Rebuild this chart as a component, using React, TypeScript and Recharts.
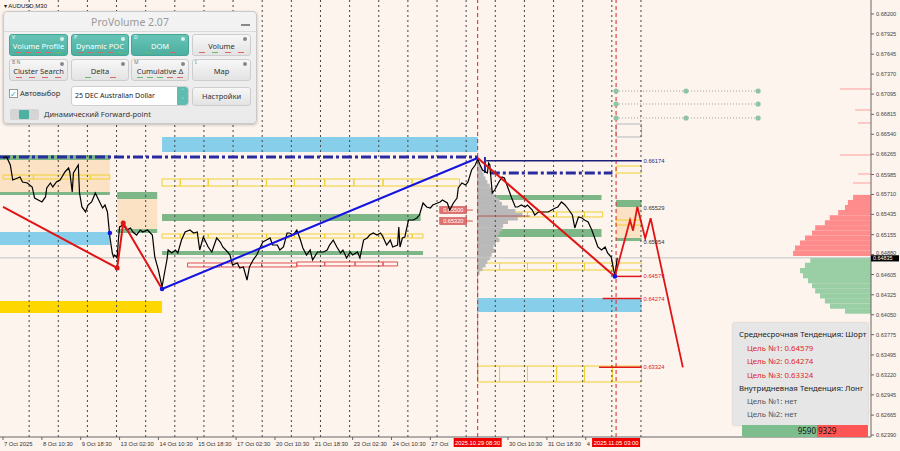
import React from "react";
import {
  ComposedChart,
  Line,
  XAxis,
  YAxis,
  ReferenceLine,
  ReferenceArea,
  Scatter,
} from "recharts";

// AUDUSD M30, trading hours counted from the first bar on 7 Oct
const barTimes = [
  0, 3, 6, 8, 12, 14, 16, 20, 24, 26,
  29, 32, 35, 36, 39, 41, 44, 47, 51, 54,
  55, 57, 58, 62, 63, 65, 68, 70, 73, 76,
  78, 82, 84, 86, 88, 90, 91, 92, 94, 95,
  96, 99, 102, 105, 107, 110, 113, 115, 119, 123,
  125, 128, 131, 133, 135, 136, 139, 142, 144, 147,
  150, 154, 157, 160, 162, 165, 169, 172, 176, 179,
  181, 185, 187, 189, 193, 195, 198, 201, 203, 206,
  209, 212, 214, 217, 220, 222, 226, 228, 231, 234,
  236, 239, 242, 245, 247, 250, 253, 255, 259, 261,
  264, 267, 269, 272, 275, 278, 280, 283, 286, 288,
  292, 294, 297, 300, 302, 305, 308, 311, 313, 316,
  319, 321, 325, 326, 327, 329, 331, 334, 338, 341,
  343, 346, 349, 352, 354, 358, 360, 362, 366, 368,
  371, 374, 375, 378, 381, 383, 386, 389, 391, 393,
  395, 399, 400, 401, 403, 405, 408, 411, 413, 416,
  419, 422, 424, 427, 430, 432, 436, 438, 441, 444,
  446, 449, 452, 455, 457, 460, 463, 465, 469, 471,
  474, 477, 479, 482, 485, 488, 490, 493, 496, 498,
  501, 504, 506,
];
const closePrices = [
  0.66213, 0.66227, 0.66116, 0.65909, 0.65937, 0.65951, 0.65882, 0.65868, 0.65813, 0.65661,
  0.65633, 0.65606, 0.65675, 0.65799, 0.65868, 0.65813, 0.65882, 0.65909, 0.6602, 0.66075,
  0.6602, 0.65744, 0.66006, 0.66116, 0.6573, 0.65537, 0.65468, 0.65564, 0.65606, 0.6573,
  0.65661, 0.65523, 0.65564, 0.65468, 0.65123, 0.64902, 0.64847, 0.64874, 0.64833, 0.65081,
  0.65261, 0.65288, 0.65219, 0.65247, 0.65192, 0.6515, 0.65219, 0.65192, 0.65219, 0.6515,
  0.64847, 0.64667, 0.64433, 0.64626, 0.64805, 0.64943, 0.64902, 0.64943, 0.64902, 0.65081,
  0.65192, 0.65219, 0.65178, 0.65192, 0.64943, 0.65123, 0.64985, 0.64916, 0.65109, 0.65054,
  0.64985, 0.64916, 0.64874, 0.64736, 0.64764, 0.64695, 0.64709, 0.64529, 0.64709, 0.64805,
  0.64874, 0.64985, 0.65054, 0.65081, 0.65109, 0.65012, 0.65012, 0.64943, 0.64985, 0.65178,
  0.65178, 0.6515, 0.65219, 0.65081, 0.64971, 0.64874, 0.64943, 0.64805, 0.64916, 0.64916,
  0.64916, 0.64943, 0.65012, 0.65081, 0.64985, 0.64902, 0.64943, 0.64833, 0.64916, 0.64874,
  0.64916, 0.64833, 0.65081, 0.65109, 0.6515, 0.65178, 0.6515, 0.65178, 0.65123, 0.65012,
  0.65081, 0.64985, 0.65012, 0.65261, 0.64985, 0.65109, 0.65123, 0.65357, 0.65357, 0.65385,
  0.65426, 0.65592, 0.65537, 0.65523, 0.65564, 0.65592, 0.65606, 0.65633, 0.65592, 0.65495,
  0.65592, 0.65661, 0.65799, 0.65868, 0.6584, 0.65882, 0.66047, 0.66116, 0.66199, 0.66116,
  0.66047, 0.66006, 0.66144, 0.66116, 0.6573, 0.65771, 0.65868, 0.65951, 0.65937, 0.65799,
  0.65661, 0.65537, 0.65537, 0.65564, 0.65537, 0.65564, 0.65495, 0.65426, 0.65468, 0.65468,
  0.65468, 0.65468, 0.65495, 0.65523, 0.65537, 0.65606, 0.65564, 0.65523, 0.65426, 0.65247,
  0.65399, 0.65385, 0.65357, 0.6533, 0.65219, 0.65081, 0.64985, 0.64943, 0.64985, 0.64902,
  0.64847, 0.64584, 0.64835,
];
const lastPrice = 0.64835;

const timeTicks = [0, 32, 64, 96, 128, 160, 192, 224, 256, 288, 320, 352, 416, 448, 480];
const timeLabels = [
  "7 Oct 2025", "8 Oct 10:30", "9 Oct 18:30", "13 Oct 02:30", "14 Oct 10:30", "15 Oct 18:30",
  "17 Oct 02:30", "20 Oct 10:30", "21 Oct 18:30", "23 Oct 02:30", "24 Oct 10:30", "27 Oct",
  "30 Oct 10:30", "31 Oct 18:30", "4",
];
const markerTimes = [391, 505];
const markerLabels = ["2025.10.29 08:30", "2025.11.05 03:00"];
const priceTicks = [
  0.682, 0.67925, 0.67645, 0.6737, 0.67095, 0.66815, 0.6654, 0.66265, 0.65985, 0.6571, 0.65435,
  0.65155, 0.6488, 0.64605, 0.64325, 0.6405, 0.63775, 0.63495, 0.6322, 0.62945, 0.62665, 0.6239,
];
const daySeparators = [
  21.5, 45.5, 69.5, 93.5, 117.5, 141.5, 165.5, 189.5, 213.5, 237.5, 261.5,
  285.5, 309.5, 333.5, 357.5, 381.5, 405.5, 429.5, 453.5, 477.5, 501.5, 525.5,
];

// zones: [from, to, low, high]
const blueZones = [
  [131, 391, 0.66296, 0.66503],
  [-2.5, 88, 0.65012, 0.65192],
  [391, 526, 0.64088, 0.64281],
];
const goldZones = [[-2.5, 131, 0.64074, 0.64239]];
const greenZones = [
  [-2.5, 88, 0.66185, 0.66254],
  [-2.5, 88, 0.65702, 0.65744],
  [94, 127, 0.65647, 0.65744],
  [94, 127, 0.65178, 0.65233],
  [131, 344, 0.65343, 0.6544],
  [131, 346, 0.64874, 0.64929],
  [391, 493, 0.65633, 0.65702],
  [391, 493, 0.65123, 0.65233],
  [505, 526, 0.65537, 0.65633],
  [505, 526, 0.65067, 0.65109],
];
const peachZones = [
  [-2.5, 88, 0.65744, 0.66185],
  [94, 127, 0.65233, 0.65647],
  [505, 526, 0.65109, 0.65537],
];
const yellowCuts = [
  [0, 25, 72, 88],
  [131, 146, 169, 193, 217, 240, 265, 289, 313, 337, 376],
  [131, 146, 169, 193, 217, 240, 265, 289, 313, 337, 346],
  [391, 409, 432, 456, 479, 494],
  [391, 409, 432, 456, 479, 502, 526],
  [391, 409, 432, 456, 479, 502, 526],
  [505, 526],
  [505, 526],
];
const yellowLows = [0.65923, 0.65826, 0.65109, 0.65399, 0.64667, 0.63122, 0.66006, 0.65288];
const yellowHighs = [0.65978, 0.65923, 0.65164, 0.65468, 0.64764, 0.63342, 0.66102, 0.65357];
const redCuts = [
  [152, 180, 213, 242],
  [242, 265, 290, 313, 325],
];
const redLows = [0.64709, 0.64723];
const redHighs = [0.64764, 0.64778];

// session volume profile from the 29 Oct pivot
const profileStart = 391;
const profilePrices = [
  0.6613, 0.6608, 0.6603, 0.6598, 0.6593, 0.6588, 0.6583, 0.6578, 0.6573, 0.6568, 0.6563,
  0.6558, 0.6553, 0.6548, 0.6543, 0.6538, 0.6533, 0.6528, 0.6523, 0.6518, 0.6513, 0.6508,
  0.6503, 0.6498, 0.6493, 0.6488, 0.6483, 0.6478, 0.6473, 0.6468, 0.6463,
];
const profileVolumes = [
  1.6, 2.5, 4, 5, 6.5, 8, 10, 11.5, 13, 15.5, 18,
  20, 25, 31, 37, 33, 25, 21, 20, 18, 16.5, 18,
  15, 13, 15, 11.5, 10, 8, 6.5, 4, 1.6,
];
// market profile on the right edge
const rightEdge = 715;
const rightPrices = [
  0.65668, 0.65598, 0.65528, 0.65458, 0.65388, 0.65318, 0.65248, 0.65178, 0.65108, 0.65038,
  0.64968, 0.64898, 0.648, 0.6473, 0.6466, 0.6459, 0.6452, 0.6445, 0.6438, 0.6431, 0.6424,
  0.6417, 0.641,
];
const rightVolumes = [
  14.8, 19, 21.4, 27, 34, 38, 46, 48.6, 54.4, 58.5, 62.6, 64.2,
  50, 54.4, 58.5, 56, 51.9, 48.6, 46, 42, 38, 33.8, 21.4,
];
const thinPrices = [0.67165, 0.66875, 0.66696, 0.66254, 0.65992, 0.65868];
const thinVolumes = [25.5, 13, 10.7, 25.5, 10.7, 14.8];

// trend structure
const redLegTimes = [0, 94, 99, 131];
const redLegPrices = [0.65537, 0.64695, 0.65316, 0.64405];
const blueLegTimes = [131, 391];
const blueLegPrices = [0.64405, 0.66213];
const downLegTimes = [391, 504];
const downLegPrices = [0.66213, 0.64579];
const forecastTimes = [504, 516.5, 519, 522.5, 529, 533.5, 560];
const forecastPrices = [0.64579, 0.65357, 0.6521, 0.65541, 0.65103, 0.65381, 0.63324];
const shortTargets = [0.64579, 0.64274, 0.63324];
const targetStarts = [504, 494, 491];
const zoneLabels = [0.66174, 0.65529, 0.65054];
const futureTimes = [505, 562.6, 622];
const futurePrices = [0.67137, 0.66958, 0.66765];
const buyVolume = 9590;
const sellVolume = 9329;

const priceData = barTimes.map((t, i) => ({ t, p: closePrices[i] }));
const toPts = (ts: number[], ps: number[]) => ts.map((t, i) => ({ t, p: ps[i] }));

const AXIS_FONT = "'Liberation Sans', Arial, sans-serif";
const UI_FONT = "'Noto Sans', 'Open Sans', sans-serif";

const PriceTick = (props: any) => {
  const { x, y, payload } = props;
  const v = payload.value as number;
  if (v === lastPrice) {
    return (
      <g>
        <rect x={x} y={y - 2.6} width={28} height={6.2} fill="#000" />
        <text x={x + 2} y={y + 2.4} fontSize={5.4} fill="#fff" fontFamily={AXIS_FONT}>
          {v.toFixed(5)}
        </text>
      </g>
    );
  }
  // the tick right above the price box sits a little higher so both stay readable
  const nudge = v > lastPrice && v - lastPrice < 0.0006 ? -1.8 : 0;
  return (
    <g>
      <line x1={x} x2={x + 3} y1={y} y2={y} stroke="#666" />
      <text x={x + 5} y={y + 2 + nudge} fontSize={5.6} fill="#444" fontFamily={AXIS_FONT}>
        {v.toFixed(5)}
      </text>
    </g>
  );
};

const TimeTick = (props: any) => {
  const { x, y, payload } = props;
  const v = payload.value as number;
  const m = markerTimes.indexOf(v);
  if (m >= 0) {
    return (
      <g>
        <rect x={x - 24} y={y + 1} width={48} height={9} fill="#F00000" />
        <text x={x} y={y + 8} textAnchor="middle" fontSize={5.8} fill="#fff" fontFamily={AXIS_FONT}>
          {markerLabels[m]}
        </text>
      </g>
    );
  }
  const i = timeTicks.indexOf(v);
  return (
    <g>
      <line x1={x} x2={x} y1={y} y2={y + 3} stroke="#666" />
      <text x={x + 1} y={y + 9} fontSize={5.8} fill="#333" fontFamily={AXIS_FONT}>
        {timeLabels[i]}
      </text>
    </g>
  );
};

const boxLabel = (text: string) => (props: any) => {
  const vb = props.viewBox || {};
  return (
    <g>
      <rect x={vb.x - 27} y={vb.y - 3.5} width={27} height={7} fill="#E07070" stroke="#C04040" strokeWidth={0.5} />
      <text x={vb.x - 13.5} y={vb.y + 2.2} textAnchor="middle" fontSize={5.6} fill="#fff" fontFamily={AXIS_FONT}>
        {text}
      </text>
    </g>
  );
};

const Btn = ({ x, y, w, label, on, hot, marks }: any) => (
  <div
    style={{
      position: "absolute",
      left: x,
      top: y,
      width: w,
      height: 22,
      boxSizing: "border-box",
      borderRadius: 3,
      border: "1px solid " + (on ? "#46A596" : "#CDCDCD"),
      background: on ? "linear-gradient(#66C4B6, #4CAF9F)" : "linear-gradient(#F7F7F7, #E3E3E3)",
      color: on ? "#fff" : "#333",
    }}
  >
    {hot && (
      <span style={{ position: "absolute", left: 2, top: 0, fontSize: 5, lineHeight: "5px", color: on ? "#e8fffa" : "#777" }}>
        {hot}
      </span>
    )}
    <span
      style={{
        position: "absolute",
        right: 3,
        top: 1.5,
        width: 4,
        height: 4,
        borderRadius: 2,
        background: on ? "#d8f0ec" : "#888",
      }}
    />
    <span
      style={{
        position: "absolute",
        left: 0,
        right: 0,
        top: 6,
        fontSize: 7.5,
        lineHeight: "10px",
        textAlign: "center",
        whiteSpace: "nowrap",
      }}
    >
      {label}
    </span>
    <div style={{ position: "absolute", left: 3, right: 3, bottom: 2, height: 1.5, display: "flex", justifyContent: "space-around" }}>
      {(marks || []).map((c: string, i: number) => (
        <span key={i} style={{ width: 6, height: 1.5, background: c }} />
      ))}
    </div>
  </div>
);

const ProVolumePanel = () => (
  <div
    style={{
      position: "absolute",
      left: 3,
      top: 11,
      width: 254,
      height: 113,
      boxSizing: "border-box",
      borderRadius: 4,
      border: "1px solid #C9C9C9",
      background: "linear-gradient(#F3F3F3, #EAEAEA)",
      boxShadow: "0 1px 3px rgba(0,0,0,0.25)",
      fontFamily: UI_FONT,
    }}
  >
    <div style={{ position: "absolute", left: 0, right: 0, top: 3, textAlign: "center", fontSize: 10.5, color: "#9A9A9A" }}>
      ProVolume 2.07
    </div>
    <div style={{ position: "absolute", right: 6, top: 12, width: 9, height: 1.5, background: "#888" }} />
    <div style={{ position: "absolute", left: 0, right: 0, top: 19, height: 1, background: "#DADADA" }} />
    <Btn x={5} y={22} w={59} label="Volume Profile" on hot="V" marks={["#d66", "#d66", "#d66", "#d66", "#6b6"]} />
    <Btn x={67} y={22} w={58} label="Dynamic POC" on hot="P" marks={["#d66", "#d66", "#d66", "#d66", "#6b6"]} />
    <Btn x={127} y={22} w={58} label="DOM" on hot="D" marks={["#6b6", "#d66"]} />
    <Btn x={188} y={22} w={59} label="Volume" marks={["#d66", "#6b6", "#d66", "#d66"]} />
    <Btn x={5} y={47} w={59} label="Cluster Search" hot="B N" marks={["#d66", "#d66", "#d66", "#d66"]} />
    <Btn x={67} y={47} w={58} label="Delta" marks={["#6b6", "#d66"]} />
    <Btn x={127} y={47} w={58} label="Cumulative Δ" hot="M" marks={["#6b6", "#6b6", "#6b6", "#d66", "#d66"]} />
    <Btn x={188} y={47} w={59} label="Map" hot="I" />
    <div style={{ position: "absolute", left: 5, top: 76, fontSize: 7.5, color: "#333", display: "flex", alignItems: "center" }}>
      <span style={{ display: "inline-block", width: 7, height: 7, border: "1px solid #999", background: "#fff", marginRight: 2, color: "#3aa", fontSize: 8, lineHeight: "7px" }}>✓</span>
      Автовыбор
    </div>
    <div
      style={{
        position: "absolute",
        left: 67,
        top: 74,
        width: 118,
        height: 20,
        boxSizing: "border-box",
        border: "1px solid #CFCFCF",
        borderRadius: 3,
        background: "#fff",
        fontSize: 7,
        lineHeight: "18px",
        paddingLeft: 3,
        color: "#222",
      }}
    >
      25 DEC Australian Dollar
      <div style={{ position: "absolute", right: 0, top: 0, width: 11, height: 18, background: "#5DBDB0", borderRadius: "0 3px 3px 0", color: "#fff", fontSize: 6, lineHeight: "9px", textAlign: "center" }}>
        ˄<br />˅
      </div>
    </div>
    <div
      style={{
        position: "absolute",
        left: 188,
        top: 75,
        width: 59,
        height: 19,
        boxSizing: "border-box",
        border: "1px solid #CDCDCD",
        borderRadius: 3,
        background: "linear-gradient(#F7F7F7, #E3E3E3)",
        fontSize: 7.5,
        lineHeight: "17px",
        textAlign: "center",
        color: "#333",
      }}
    >
      Настройки
    </div>
    <div style={{ position: "absolute", left: 6, top: 97, width: 29, height: 11, borderRadius: 2, background: "#D5D5D5" }}>
      <div style={{ position: "absolute", left: 9, top: 1, width: 10, height: 9, background: "#4CB1A3", borderRadius: 1 }} />
    </div>
    <div style={{ position: "absolute", left: 40, top: 97, fontSize: 7.5, lineHeight: "11px", color: "#333" }}>
      Динамический Forward-point
    </div>
  </div>
);

const InfoBox = () => (
  <div
    style={{
      position: "absolute",
      left: 733,
      top: 323,
      width: 135,
      height: 102,
      background: "#E6E6E6",
      boxShadow: "0 0 2px rgba(0,0,0,0.3)",
      fontFamily: UI_FONT,
      fontSize: 7.8,
      lineHeight: "11px",
      color: "#222",
    }}
  >
    <div style={{ position: "absolute", left: 6, top: 5.5, whiteSpace: "nowrap" }}>Среднесрочная Тенденция: Шорт</div>
    {shortTargets.map((v, i) => (
      <div key={i} style={{ position: "absolute", left: 14, top: 19.5 + 13.5 * i, color: "#E02828" }}>
        Цель №{i + 1}: {v.toFixed(5)}
      </div>
    ))}
    <div style={{ position: "absolute", left: 6, top: 59.5, whiteSpace: "nowrap" }}>Внутридневная Тенденция: Лонг</div>
    <div style={{ position: "absolute", left: 14, top: 72.5, color: "#555" }}>Цель №1: нет</div>
    <div style={{ position: "absolute", left: 14, top: 85.5, color: "#555" }}>Цель №2: нет</div>
  </div>
);

const VolumeBalance = () => (
  <div style={{ position: "absolute", left: 742, top: 425, height: 12, display: "flex", fontFamily: UI_FONT, fontSize: 8, lineHeight: "12px", color: "#111" }}>
    <div style={{ width: 75, background: "#7DBD8E", textAlign: "right", paddingRight: 1, boxSizing: "border-box" }}>{buyVolume}</div>
    <div style={{ width: 51, background: "#FF5555", paddingLeft: 1, boxSizing: "border-box" }}>{sellVolume}</div>
  </div>
);

export default function App() {
  return (
    <div style={{ position: "fixed", left: 0, top: 0, width: 900, height: 451, background: "#FDF4EE", overflow: "hidden" }}>
      <ComposedChart width={900} height={451} data={priceData} margin={{ top: 0, right: 0, bottom: 0, left: 0 }}>
        <XAxis
          type="number"
          dataKey="t"
          domain={[-2.5, 715]}
          allowDataOverflow
          ticks={[...timeTicks, ...markerTimes]}
          interval={0}
          tick={<TimeTick />}
          tickSize={0}
          tickMargin={0}
          tickLine={false}
          axisLine={{ stroke: "#666" }}
          height={14}
        />
        <YAxis
          type="number"
          dataKey="p"
          orientation="right"
          domain={[0.62363, 0.68393]}
          allowDataOverflow
          ticks={[...priceTicks, lastPrice]}
          interval={0}
          tick={<PriceTick />}
          tickSize={0}
          tickMargin={0}
          tickLine={false}
          axisLine={{ stroke: "#666" }}
          width={29}
        />

        {peachZones.map(([a, b, lo, hi], i) => (
          <ReferenceArea key={"pz" + i} x1={a} x2={b} y1={lo} y2={hi} fill="#FBE2C4" fillOpacity={1} stroke="none" />
        ))}
        {blueZones.map(([a, b, lo, hi], i) => (
          <ReferenceArea key={"bz" + i} x1={a} x2={b} y1={lo} y2={hi} fill="#87CEEB" fillOpacity={1} stroke="none" />
        ))}
        {goldZones.map(([a, b, lo, hi], i) => (
          <ReferenceArea key={"gz" + i} x1={a} x2={b} y1={lo} y2={hi} fill="#FFD700" fillOpacity={1} stroke="none" />
        ))}
        {greenZones.map(([a, b, lo, hi], i) => (
          <ReferenceArea key={"grz" + i} x1={a} x2={b} y1={lo} y2={hi} fill="#7DB787" fillOpacity={1} stroke="none" />
        ))}
        {yellowCuts.map((cuts, k) =>
          cuts.slice(1).map((c, i) => (
            <ReferenceArea
              key={"yz" + k + "-" + i}
              x1={cuts[i]}
              x2={c}
              y1={yellowLows[k]}
              y2={yellowHighs[k]}
              fill="none"
              stroke="#F0D030"
              strokeWidth={1}
            />
          ))
        )}
        {redCuts.map((cuts, k) =>
          cuts.slice(1).map((c, i) => (
            <ReferenceArea
              key={"rz" + k + "-" + i}
              x1={cuts[i]}
              x2={c}
              y1={redLows[k]}
              y2={redHighs[k]}
              fill="none"
              stroke="#E05050"
              strokeWidth={1}
            />
          ))
        )}
        <ReferenceArea x1={505} x2={526} y1={0.66503} y2={0.66682} fill="none" stroke="#B8B8B8" />

        {profilePrices.map((p, i) => (
          <ReferenceArea
            key={"vp" + i}
            x1={profileStart}
            x2={profileStart + profileVolumes[i]}
            y1={p - 0.00028}
            y2={p + 0.00028}
            fill="#B9B9B9"
            fillOpacity={1}
            stroke="none"
          />
        ))}
        <ReferenceLine segment={[{ x: profileStart, y: 0.66227 }, { x: profileStart, y: 0.63122 }]} stroke="#A8A8A8" />
        {rightPrices.map((p, i) => (
          <ReferenceArea
            key={"rp" + i}
            x1={rightEdge - rightVolumes[i]}
            x2={rightEdge}
            y1={p - 0.00036}
            y2={p + 0.00036}
            fill={p > lastPrice ? "#FF8C8C" : "#9ACFA6"}
            fillOpacity={1}
            stroke="none"
          />
        ))}
        {thinPrices.map((p, i) => (
          <ReferenceLine
            key={"tp" + i}
            segment={[{ x: rightEdge - thinVolumes[i], y: p }, { x: rightEdge, y: p }]}
            stroke="#FF9C9C"
            strokeWidth={1}
          />
        ))}

        {daySeparators.map((d) => (
          <ReferenceLine key={"ds" + d} x={d} stroke="#444" strokeDasharray="2 3" strokeWidth={1} />
        ))}
        {markerTimes.map((m) => (
          <ReferenceLine key={"mk" + m} x={m} stroke="#E02020" strokeDasharray="4 3" strokeWidth={1} />
        ))}
        <ReferenceLine y={lastPrice} stroke="#C4C4C4" strokeWidth={1} />

        {futurePrices.map((p, i) => (
          <ReferenceLine
            key={"fl" + i}
            segment={[{ x: futureTimes[0], y: p }, { x: futureTimes[2], y: p }]}
            stroke="#A0A0A0"
            strokeDasharray="1 2"
          />
        ))}

        <ReferenceLine
          segment={[{ x: -2.5, y: 0.66227 }, { x: 391, y: 0.66227 }]}
          stroke="#2B2BA0"
          strokeWidth={3}
          strokeDasharray="10 3 3 3"
        />
        <ReferenceLine
          segment={[{ x: 401, y: 0.66006 }, { x: 502, y: 0.66006 }]}
          stroke="#2B2BA0"
          strokeWidth={3}
          strokeDasharray="10 3 3 3"
        />
        <ReferenceLine segment={[{ x: 397, y: 0.66227 }, { x: 397, y: 0.66006 }]} stroke="#2B2BA0" strokeWidth={2} />
        <ReferenceLine
          segment={[{ x: 398, y: zoneLabels[0] }, { x: 526, y: zoneLabels[0] }]}
          stroke="#1E1E78"
          strokeWidth={1.5}
          label={{ value: zoneLabels[0].toFixed(5), position: "right", fontSize: 5.8, fill: "#1E1E78", fontFamily: AXIS_FONT, offset: 2 }}
        />
        {zoneLabels.slice(1).map((p) => (
          <ReferenceLine
            key={"zl" + p}
            segment={[{ x: 505, y: p }, { x: 526, y: p }]}
            stroke="none"
            label={{ value: p.toFixed(5), position: "right", fontSize: 5.8, fill: "#333", fontFamily: AXIS_FONT, offset: 2 }}
          />
        ))}
        {shortTargets.map((p, i) => (
          <ReferenceLine
            key={"st" + p}
            segment={[{ x: targetStarts[i], y: p }, { x: 526, y: p }]}
            stroke="#E01818"
            strokeWidth={1.5}
            label={{ value: p.toFixed(5), position: "right", fontSize: 5.8, fill: "#E01818", fontFamily: AXIS_FONT, offset: 2 }}
          />
        ))}
        <ReferenceLine segment={[{ x: 391, y: 0.65412 }, { x: 434, y: 0.65412 }]} stroke="#B04040" strokeWidth={0.8} />
        <ReferenceLine
          segment={[{ x: 382, y: 0.65495 }, { x: 387, y: 0.65495 }]}
          stroke="#D05050"
          label={boxLabel("0.65500")}
        />
        <ReferenceLine
          segment={[{ x: 382, y: 0.65343 }, { x: 387, y: 0.65343 }]}
          stroke="#D05050"
          label={boxLabel("0.65320")}
        />

        <Line dataKey="p" stroke="#000" strokeWidth={1.2} dot={false} activeDot={false} type="linear" isAnimationActive={false} />

        <Line data={toPts(blueLegTimes, blueLegPrices)} dataKey="p" stroke="#1414E0" strokeWidth={2} dot={false} activeDot={false} isAnimationActive={false} />
        <Line data={toPts(redLegTimes, redLegPrices)} dataKey="p" stroke="#E01414" strokeWidth={2} dot={false} activeDot={false} isAnimationActive={false} />
        <Line data={toPts(downLegTimes, downLegPrices)} dataKey="p" stroke="#E01414" strokeWidth={2} dot={false} activeDot={false} isAnimationActive={false} />
        <Line data={toPts(forecastTimes, forecastPrices)} dataKey="p" stroke="#E01414" strokeWidth={1.8} dot={false} activeDot={false} isAnimationActive={false} />

        <Scatter
          data={toPts([94, 99], [0.64695, 0.65316])}
          dataKey="p"
          fill="#E01414"
          isAnimationActive={false}
          shape={(p: any) => <circle cx={p.cx} cy={p.cy} r={2.5} fill="#E01414" />}
        />
        <Scatter
          data={toPts([131, 504, 88], [0.64405, 0.64579, 0.65178])}
          dataKey="p"
          fill="#1414E0"
          isAnimationActive={false}
          shape={(p: any) => <circle cx={p.cx} cy={p.cy} r={2.3} fill="#1414E0" />}
        />
        <Scatter
          data={toPts(
            [futureTimes[0], futureTimes[1], futureTimes[2], futureTimes[0], futureTimes[2], futureTimes[0], futureTimes[1], futureTimes[2]],
            [futurePrices[0], futurePrices[0], futurePrices[0], futurePrices[1], futurePrices[1], futurePrices[2], futurePrices[2], futurePrices[2]]
          )}
          dataKey="p"
          fill="#8EC3A4"
          isAnimationActive={false}
          shape={(p: any) => <circle cx={p.cx} cy={p.cy} r={2.6} fill="#8EC3A4" />}
        />
      </ComposedChart>

      <div style={{ position: "absolute", left: 4, top: 2, fontFamily: AXIS_FONT, fontSize: 6, color: "#111" }}>
        ▾ AUDUSD,M30
      </div>
      <ProVolumePanel />
      <InfoBox />
      <VolumeBalance />
    </div>
  );
}
